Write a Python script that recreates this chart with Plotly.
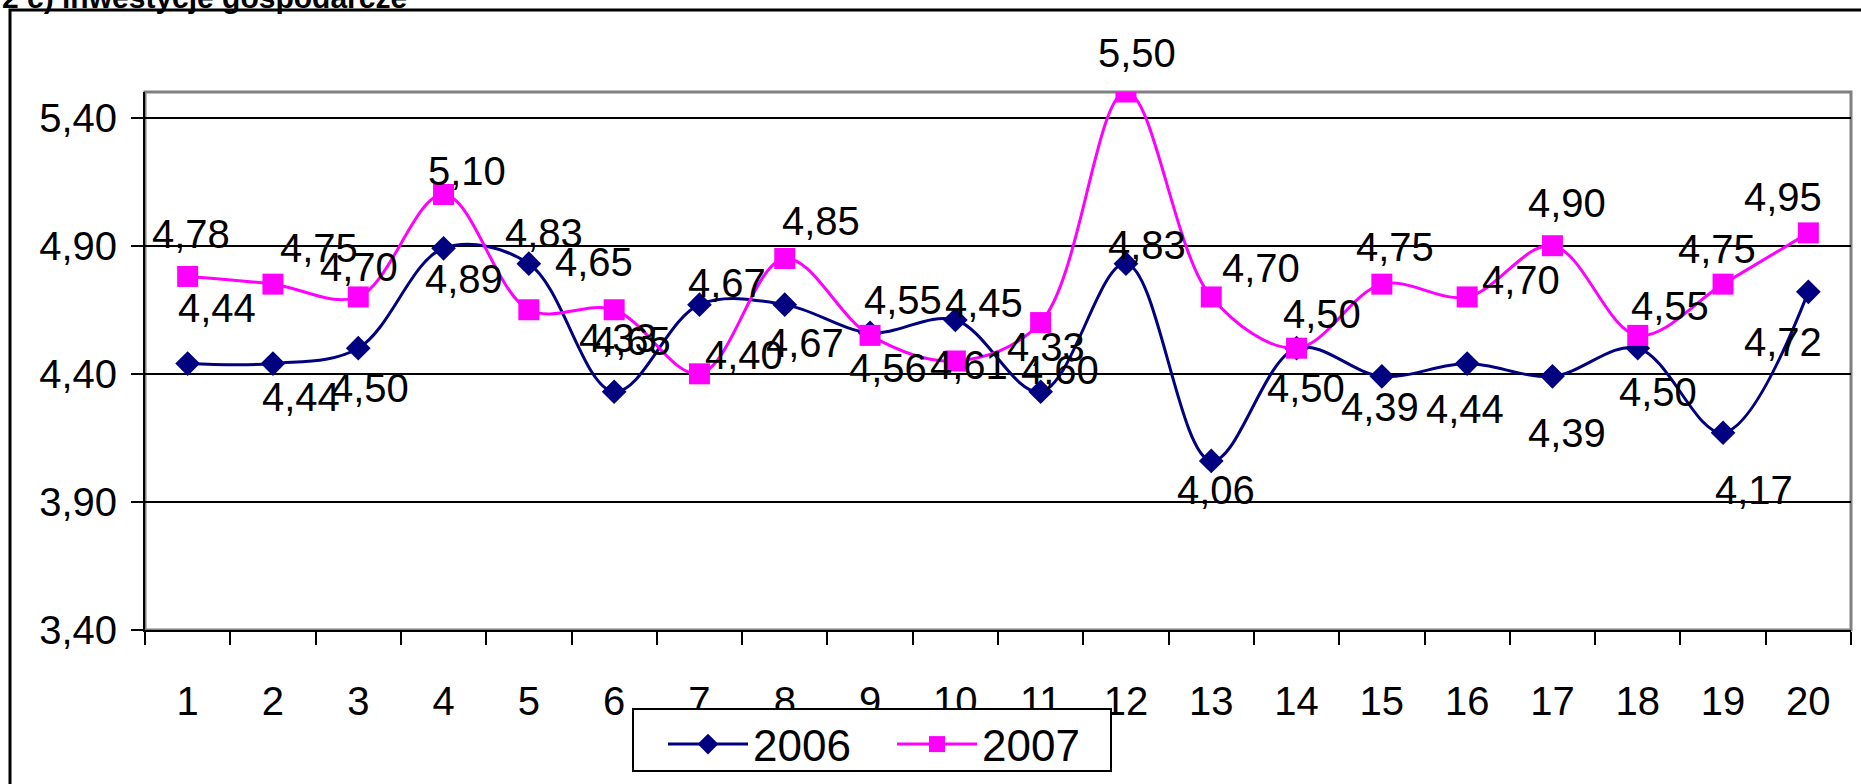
import plotly.graph_objects as go

W, H = 1861, 784
ML, MR, MT, MB = 145, 10, 92, 154

weeks = [str(i) for i in range(1, 21)]
values_2006 = [4.44, 4.44, 4.50, 4.89, 4.83, 4.33, 4.67, 4.67, 4.56, 4.61,
               4.33, 4.83, 4.06, 4.50, 4.39, 4.44, 4.39, 4.50, 4.17, 4.72]
values_2007 = [4.78, 4.75, 4.70, 5.10, 4.65, 4.65, 4.40, 4.85, 4.55, 4.45,
               4.60, 5.50, 4.70, 4.50, 4.75, 4.70, 4.90, 4.55, 4.75, 4.95]
y_ticks = [3.40, 3.90, 4.40, 4.90, 5.40]

# label offsets in px (dx right, dy down) - Excel placed them by hand
OFF_2006 = [(29, -56), (28, 33), (12, 40), (20, 31), (15, -31), (4, -54), (28, -22),
            (20, 38), (18, 35), (14, 45), (5, -45), (21, -19), (5, 29), (9, 40),
            (-2, 31), (-2, 45), (15, 57), (20, 44), (31, 57), (-25, 50)]
OFF_2007 = [(3, -42), (46, -36), (1, -30), (23, -23), (65, -48), (18, 31), (45, -19),
            (36, -38), (33, -35), (29, -58), (19, 47), (11, -39), (50, -29), (25, -34),
            (13, -37), (54, -17), (15, -43), (32, -29), (-6, -35), (-25, -36)]

NAVY = "#000080"
PINK = "#FF00FF"
FONT = "Liberation Sans, Arial, sans-serif"


def fmt(v):
    return f"{v:.2f}".replace(".", ",")


fig = go.Figure()
fig.add_trace(go.Scatter(
    x=weeks, y=values_2006, name="2006", mode="lines+markers",
    line=dict(color=NAVY, width=3, shape="spline", smoothing=1.0),
    marker=dict(symbol="diamond", size=19, color=NAVY),
))
fig.add_trace(go.Scatter(
    x=weeks, y=values_2007, name="2007", mode="lines+markers",
    line=dict(color=PINK, width=3, shape="spline", smoothing=1.0),
    marker=dict(symbol="square", size=21, color=PINK),
))

annotations = []
for vals, offs in ((values_2006, OFF_2006), (values_2007, OFF_2007)):
    # category axis: annotation x given as category index
    for i, (v, (dx, dy)) in enumerate(zip(vals, offs)):
        annotations.append(dict(
            x=i, y=v, xref="x", yref="y", text=fmt(v), showarrow=False,
            xshift=dx, yshift=-dy, font=dict(size=40, color="black", family=FONT),
        ))

pw = W - ML - MR
ph = H - MT - MB
# cropped title at the very top
annotations.append(dict(
    x=-ML / pw, y=1 + (MT - 16) / ph, xref="paper", yref="paper", xanchor="left",
    yanchor="bottom", showarrow=False, text="<b>2 c) inwestycje gospodarcze</b>",
    font=dict(size=30, color="black", family=FONT),
))


def px_x(p):
    return (p - ML) / pw


def px_y(p):
    return 1 - (p - MT) / ph


shapes = [
    # outer frame, runs off the right and bottom edge
    dict(type="rect", xref="paper", yref="paper",
         x0=px_x(10), x1=1.2, y0=-1, y1=px_y(10),
         line=dict(color="black", width=3), layer="below"),
    # plot area border
    dict(type="rect", xref="paper", yref="paper", x0=0, x1=1, y0=0, y1=1,
         line=dict(color="#808080", width=3), layer="below"),
    # legend frame
    dict(type="rect", xref="paper", yref="paper",
         x0=px_x(633), x1=px_x(1111), y0=px_y(771), y1=px_y(709),
         line=dict(color="black", width=2), fillcolor="white", layer="above"),
]

fig.update_layout(
    width=W, height=H,
    margin=dict(l=ML, r=MR, t=MT, b=MB, autoexpand=False),
    paper_bgcolor="white", plot_bgcolor="white",
    font=dict(family=FONT, color="black", size=40),
    showlegend=True,
    legend=dict(
        orientation="h", xref="container", yref="container",
        x=633 / W, y=1 - 709 / H, xanchor="left", yanchor="top",
        bgcolor="rgba(0,0,0,0)", borderwidth=0,
        font=dict(size=44, family=FONT), itemwidth=80, indentation=30,
        entrywidth=104, entrywidthmode="pixels",
    ),
    xaxis=dict(
        type="category", range=[-0.5, 19.5], tickson="boundaries",
        ticks="outside", ticklen=13, tickwidth=2, tickcolor="black",
        showline=True, linecolor="black", linewidth=2, showgrid=False,
        ticklabelstandoff=35, tickfont=dict(size=40),
    ),
    yaxis=dict(
        range=[3.40, 5.50], tickvals=y_ticks, ticktext=[fmt(v) for v in y_ticks],
        ticks="outside", ticklen=12, tickwidth=2, tickcolor="black",
        showline=True, linecolor="black", linewidth=2,
        showgrid=True, gridcolor="black", gridwidth=2, zeroline=False,
        ticklabelstandoff=6, tickfont=dict(size=40),
    ),
    annotations=annotations,
    shapes=shapes,
)

# the page body keeps its default 8px margin otherwise
fig.write_html("out.html", config={"displayModeBar": False},
               post_script="document.body.style.margin = '0';")
